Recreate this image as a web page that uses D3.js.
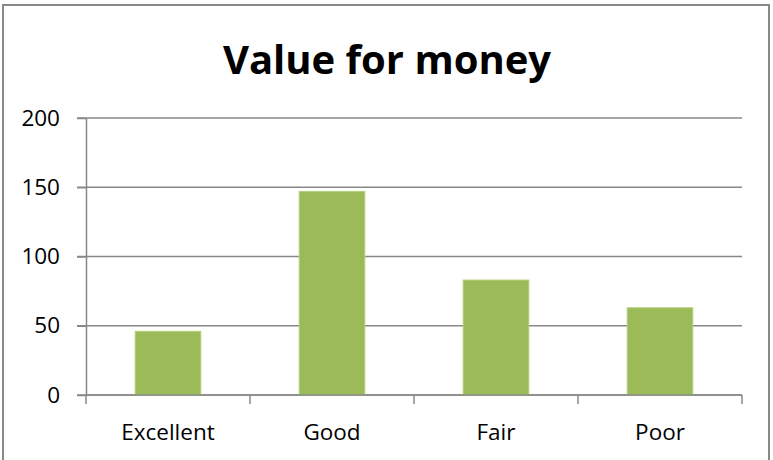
<!DOCTYPE html>
<html lang="en">
<head>
    <meta charset="UTF-8">
    <title>Value for money</title>
    <script src="https://d3js.org/d3.v7.min.js"></script>
    <style>
        body { margin: 0; background: #fff; }
        text { font-family: "Open Sans", sans-serif; fill: #000; }
        .axis path, .axis line { stroke: #888; stroke-width: 1.5px; }
        .grid line { stroke: #888; stroke-width: 1.5px; }
    </style>
</head>
<body>
<svg width="773" height="460"></svg>
<script type="text/javascript">
    const categories = ["Excellent", "Good", "Fair", "Poor"];
    const values = [46, 147, 83, 63];
    const yTicks = [0, 50, 100, 150, 200];

    let svg = d3.select("svg");

    // outer frame
    svg.append("rect")
        .attr("x", 3).attr("y", 5)
        .attr("width", 766).attr("height", 470)
        .attr("fill", "none")
        .attr("stroke", "#888")
        .attr("stroke-width", 2);

    svg.append("text")
        .attr("x", 387).attr("y", 74)
        .attr("text-anchor", "middle")
        .style("font-size", "40px")
        .style("font-weight", "bold")
        .text("Value for money");

    let x = d3.scaleBand()
        .domain(categories)
        .range([86, 742])
        .paddingInner(0.6)
        .paddingOuter(0.3);

    let y = d3.scaleLinear()
        .domain([0, 200])
        .range([395, 118]);

    // gridlines
    svg.append("g").attr("class", "grid")
        .selectAll("line")
        .data(yTicks)
        .join("line")
        .attr("x1", 77).attr("x2", 742)
        .attr("y1", d => y(d)).attr("y2", d => y(d));

    // y axis
    let yAxis = svg.append("g").attr("class", "axis")
        .attr("transform", "translate(86,0)")
        .call(d3.axisLeft(y).tickValues(yTicks).tickSize(9).tickSizeOuter(0));
    yAxis.selectAll("text")
        .attr("x", -26)
        .style("font-size", "22.5px");

    // bars
    svg.append("g")
        .selectAll("rect")
        .data(values)
        .join("rect")
        .attr("x", (d, i) => x(categories[i]))
        .attr("y", d => y(d))
        .attr("width", x.bandwidth())
        .attr("height", d => y(0) - y(d))
        .attr("fill", "#9bbb59")
        .attr("stroke", "#b3d07a")
        .attr("stroke-width", 1);

    // x axis: baseline with ticks at category boundaries
    let xg = svg.append("g").attr("class", "axis");
    xg.append("line")
        .attr("x1", 86).attr("x2", 742)
        .attr("y1", y(0)).attr("y2", y(0));
    xg.selectAll("line.tick")
        .data(d3.range(categories.length + 1))
        .join("line")
        .attr("class", "tick")
        .attr("x1", i => 86 + i * x.step()).attr("x2", i => 86 + i * x.step())
        .attr("y1", y(0)).attr("y2", y(0) + 9);
    xg.selectAll("text")
        .data(categories)
        .join("text")
        .attr("x", d => x(d) + x.bandwidth() / 2)
        .attr("y", 440)
        .attr("text-anchor", "middle")
        .style("font-size", "22.5px")
        .text(d => d);
</script>
</body>
</html>
